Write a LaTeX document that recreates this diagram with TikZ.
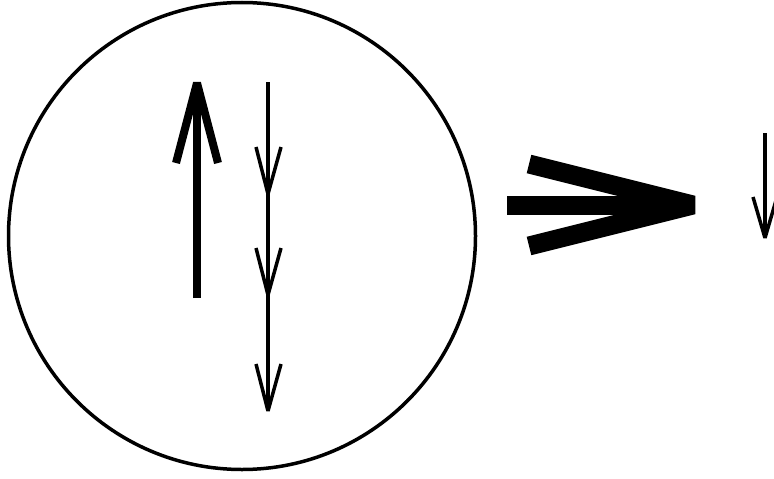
\documentclass[tikz,border=0pt]{standalone}
\begin{document}
\begin{tikzpicture}[x=1pt,y=-1pt,
  thin arrow/.style={line width=3.5pt,line join=bevel,line cap=butt},
  thick arrow/.style={line width=8pt,line join=bevel,line cap=butt},
  fat arrow/.style={line width=19pt,line join=bevel,line cap=butt}]
\useasboundingbox (0,0) rectangle (774,479);
% circle
\draw[line width=3.5pt] (242,236) circle[radius=233.5];
% big up arrow
\coordinate (upbot) at (197,298);
\coordinate (uptip) at (197,83);
\draw[thick arrow] (upbot) -- (uptip);
\draw[thick arrow] (176,163) -- (uptip) -- (218,163);
% down arrows chain
\coordinate (dtop) at (268,82);
\coordinate (dend) at (268,411);
\draw[thin arrow] (dtop) -- (dend);
\foreach \t in {194,295,411}{
  \draw[thin arrow] (256,\t-47) -- (268,\t) -- (281,\t-47);
}
% fat right arrow
\coordinate (rstart) at (507,205);
\coordinate (rtip) at (693,205);
\draw[fat arrow] (rstart) -- (rtip);
\draw[fat arrow] (529,164) -- (rtip) -- (529,246);
% small down arrow
\coordinate (stop) at (765,133);
\coordinate (stip) at (765,238);
\draw[thin arrow] (stop) -- (stip);
\draw[thin arrow] (753,197) -- (stip) -- (777,197);
\end{tikzpicture}
\end{document}
